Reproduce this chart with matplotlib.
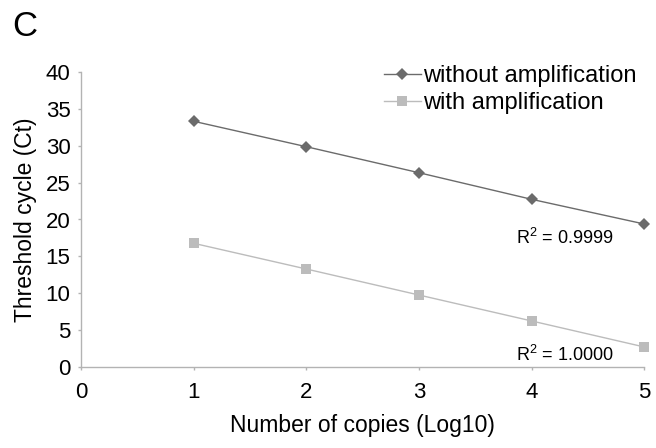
import matplotlib
matplotlib.use("Agg")
import matplotlib.pyplot as plt

plt.rcParams['font.family'] = ['Liberation Sans', 'DejaVu Sans']
plt.rcParams['mathtext.fontset'] = 'custom'
plt.rcParams['mathtext.rm'] = 'Liberation Sans'
plt.rcParams['mathtext.it'] = 'Liberation Sans'

log_copies = [1, 2, 3, 4, 5]
ct_without = [33.29, 29.85, 26.33, 22.73, 19.39]
ct_with = [16.78, 13.30, 9.78, 6.27, 2.75]
series_labels = ["without amplification", "with amplification"]
r2_labels = ["R$^{2}$ = 0.9999", "R$^{2}$ = 1.0000"]
x_ticks = [0, 1, 2, 3, 4, 5]
y_ticks = [0, 5, 10, 15, 20, 25, 30, 35, 40]

fig = plt.figure(figsize=(6.56, 4.48), dpi=100)
ax = fig.add_axes([81/656, 1-367.3/448, 563.3/656, 295.6/448])

c_dark = '#6b6b6b'
c_light = '#bcbcbc'
spine_c = '#b3b3b3'

ax.plot(log_copies, ct_without, color=c_dark, lw=1.0, marker='D', markersize=6.3,
        markeredgewidth=0, label=series_labels[0], clip_on=False, zorder=3)
ax.plot(log_copies, ct_with, color=c_light, lw=1.0, marker='s', markersize=7.5,
        markeredgewidth=0, label=series_labels[1], clip_on=False, zorder=3)

ax.set_xlim(0, 5)
ax.set_ylim(0, 40)
ax.set_xticks(x_ticks)
ax.set_yticks(y_ticks)
for s in ['top', 'right']:
    ax.spines[s].set_visible(False)
for s in ['left', 'bottom']:
    ax.spines[s].set_color(spine_c)
    ax.spines[s].set_linewidth(1.0)
ax.tick_params(axis='both', direction='out', length=2.5, width=1.0, color=spine_c,
               labelsize=16, labelcolor='black')
ax.tick_params(axis='x', pad=8)
ax.tick_params(axis='y', pad=5)

ax.set_xlabel("Number of copies (Log10)", fontsize=16.5, labelpad=8)
ax.set_ylabel("Threshold cycle (Ct)", fontsize=16.5, labelpad=6)

ax.text(0.772, 0.437, r2_labels[0], transform=ax.transAxes, fontsize=13,
        va='center', ha='left')
ax.text(0.772, 0.042, r2_labels[1], transform=ax.transAxes, fontsize=13,
        va='center', ha='left')

fig.legend(loc='upper left', bbox_to_anchor=(384/656, 1-65/448),
           bbox_transform=fig.transFigure, frameon=False, fontsize=17,
           handlelength=1.55, handletextpad=0.12, borderpad=0, borderaxespad=0,
           labelspacing=0.22)

fig.text(12/656, 1-27/448, "C", fontsize=25, va='center', ha='left')

fig.savefig("out.png", dpi=100)
